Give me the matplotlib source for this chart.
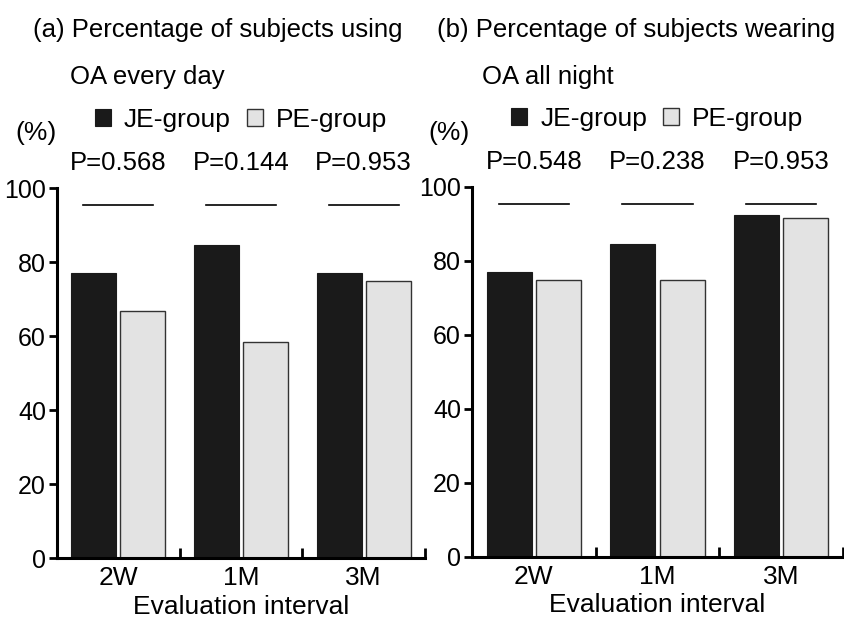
import numpy as np
import matplotlib
matplotlib.use("Agg")
import matplotlib.pyplot as plt

plt.rcParams['font.family'] = ['Liberation Sans', 'DejaVu Sans']

# data
intervals = ['2W', '1M', '3M']
je_every_day = [76.9, 84.6, 76.9]
pe_every_day = [66.7, 58.3, 75.0]
p_every_day = ['P=0.568', 'P=0.144', 'P=0.953']
je_all_night = [76.9, 84.6, 92.3]
pe_all_night = [75.0, 75.0, 91.7]
p_all_night = ['P=0.548', 'P=0.238', 'P=0.953']

fig = plt.figure(figsize=(8.45, 6.22), dpi=100)
fs = 19

def draw_panel(rect, je, pe, pvals):
    ax = fig.add_axes(rect)
    x = np.arange(len(intervals))
    b1 = ax.bar(x - 0.2, je, width=0.365, color='#1a1a1a', edgecolor='#1a1a1a', linewidth=0.8, label='JE-group')
    b2 = ax.bar(x + 0.2, pe, width=0.365, color='#e3e3e3', edgecolor='#333333', linewidth=1.0, label='PE-group')
    ax.set_xlim(-0.5, 2.5)
    ax.set_ylim(0, 100)
    for s in ['top', 'right']:
        ax.spines[s].set_visible(False)
    for s in ['left', 'bottom']:
        ax.spines[s].set_linewidth(2.2)
    ax.set_yticks([0, 20, 40, 60, 80, 100])
    ax.tick_params(axis='y', direction='out', length=6, width=2, labelsize=18, pad=2)
    ax.set_xticks(x)
    ax.set_xticklabels(intervals)
    ax.tick_params(axis='x', which='major', length=0, labelsize=fs, pad=6)
    ax.set_xticks([0.5, 1.5, 2.5], minor=True)
    ax.tick_params(axis='x', which='minor', direction='in', length=7, width=2)
    ax.set_xlabel('Evaluation interval', fontsize=fs, labelpad=3)
    # significance lines and P values
    for i, p in enumerate(pvals):
        ax.plot([i - 0.285, i + 0.285], [95.4, 95.4], color='black', linewidth=1.2)
        ax.text(i, 106.8, p, ha='center', va='center', fontsize=18.5, clip_on=False)
    ax.legend(handles=[b1, b2], loc='center', bbox_to_anchor=(0.5, 1.184), ncol=2,
              frameon=False, fontsize=fs, handlelength=0.6, handleheight=0.6,
              handletextpad=0.5, columnspacing=0.6, borderpad=0)
    return ax

draw_panel([57 / 845, 64 / 622, 368 / 845, 370 / 622], je_every_day, pe_every_day, p_every_day)
draw_panel([472 / 845, 65 / 622, 371 / 845, 370 / 622], je_all_night, pe_all_night, p_all_night)

# headers
hs = 18.5
fig.text(33 / 845, 1 - 30 / 622, '(a) Percentage of subjects using', fontsize=hs, va='center')
fig.text(70 / 845, 1 - 77 / 622, 'OA every day', fontsize=hs, va='center')
fig.text(15 / 845, 1 - 133 / 622, '(%)', fontsize=fs, va='center')
fig.text(437 / 845, 1 - 30 / 622, '(b) Percentage of subjects wearing', fontsize=hs, va='center')
fig.text(482 / 845, 1 - 77 / 622, 'OA all night', fontsize=hs, va='center')
fig.text(428 / 845, 1 - 133 / 622, '(%)', fontsize=fs, va='center')

fig.savefig('out.png', dpi=100)
